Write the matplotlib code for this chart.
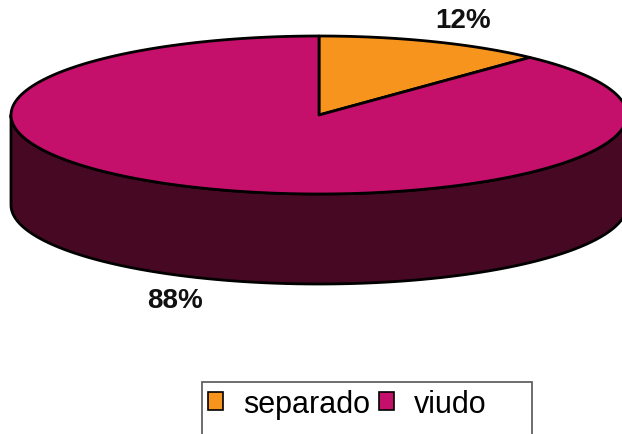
import numpy as np
import matplotlib.pyplot as plt
from matplotlib.patches import Polygon, Rectangle, Patch

# datos
categorias = ['separado', 'viudo']
valores = [12, 88]
etiquetas = ['12%', '88%']
colores = ['#f7941d', '#c4106b']
colores_lado = ['#8a4a08', '#470824']

plt.rcParams['font.family'] = ['Liberation Sans', 'DejaVu Sans']

W, H = 622, 435
fig = plt.figure(figsize=(W / 100, H / 100), dpi=100)
ax = fig.add_axes([0, 0, 1, 1])
ax.set_xlim(0, W)
ax.set_ylim(H, 0)
ax.axis('off')

# geometria del pastel 3D (pixeles)
cx, cy = 319, 116
a, b = 308, 79
prof = 90


def arco(t0, t1, dy=0, n=200):
    t = np.radians(np.linspace(t0, t1, n))
    return np.column_stack([cx + a * np.cos(t), cy - b * np.sin(t) + dy])


total = sum(valores)
inicio = 90.0
angulos = []
for v in valores:
    fin = inicio - 360.0 * v / total
    angulos.append((inicio, fin))
    inicio = fin

# lados (solo la mitad frontal es visible: 180..360)
for (t0, t1), col in zip(angulos, colores_lado):
    lo, hi = min(t0, t1), max(t0, t1)
    for k in (-360, 0, 360):
        s0, s1 = max(lo + k, 180), min(hi + k, 360)
        if s1 > s0:
            arr = arco(s0, s1)
            aba = arco(s1, s0, dy=prof)
            ax.add_patch(Polygon(np.vstack([arr, aba]), closed=True,
                                 facecolor=col, edgecolor='black', lw=2,
                                 joinstyle='round'))

# tapa superior
for (t0, t1), col in zip(angulos, colores):
    pts = np.vstack([[cx, cy], arco(t0, t1)])
    ax.add_patch(Polygon(pts, closed=True, facecolor=col,
                         edgecolor='black', lw=2, joinstyle='round'))

# etiquetas de porcentaje
for (t0, t1), txt in zip(angulos, etiquetas):
    m = np.radians((t0 + t1) / 2)
    lx = cx + a * 1.27 * np.cos(m)
    ly = cy - b * 1.3 * np.sin(m)
    if np.sin(m) < 0:
        ly += prof
    ax.text(lx, ly, txt, fontsize=20, fontweight='bold',
            ha='center', va='center', color='#111111')

# leyenda
ax.add_patch(Rectangle((202, 383), 330, 70, facecolor='white',
                       edgecolor='#555555', lw=1.2))
handles = [Patch(facecolor=c, edgecolor='black', lw=1.2) for c in colores]
ax.legend(handles, categorias, loc='center left', ncol=2,
          bbox_to_anchor=(203, 405), bbox_transform=ax.transData,
          frameon=False, fontsize=22, handlelength=0.5, handleheight=0.5,
          handletextpad=0.65, columnspacing=0.3, borderpad=0,
          borderaxespad=0.15)

fig.savefig('out.png', dpi=100)
